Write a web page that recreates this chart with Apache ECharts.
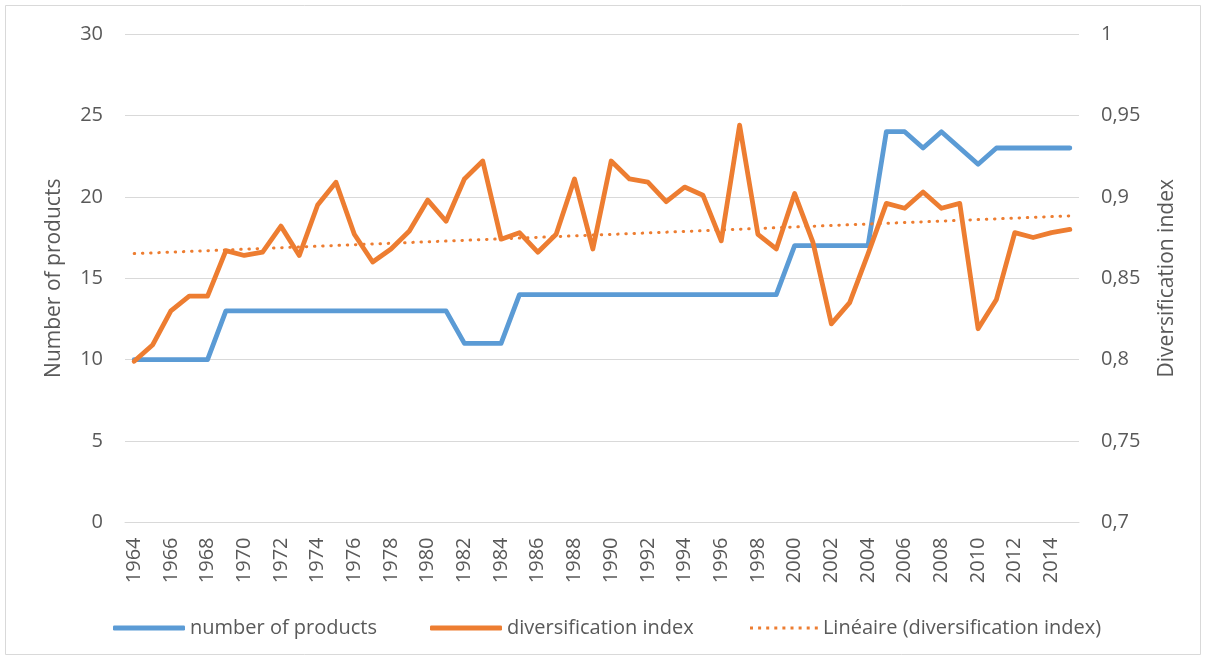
<!DOCTYPE html>
<html>
<head>
<meta charset="utf-8">
<script src="https://cdn.jsdelivr.net/npm/echarts@6/dist/echarts.min.js"></script>
<style>
html,body{margin:0;padding:0;background:#fff;}
#chart{width:1207px;height:661px;}
</style>
</head>
<body>
<div id="chart"></div>
<script>
const years = ['1964','1965','1966','1967','1968','1969','1970','1971','1972','1973','1974','1975','1976','1977','1978','1979','1980','1981','1982','1983','1984','1985','1986','1987','1988','1989','1990','1991','1992','1993','1994','1995','1996','1997','1998','1999','2000','2001','2002','2003','2004','2005','2006','2007','2008','2009','2010','2011','2012','2013','2014','2015'];

const numberOfProducts = [10,10,10,10,10,13,13,13,13,13,13,13,13,13,13,13,13,13,11,11,11,14,14,14,14,14,14,14,14,14,14,14,14,14,14,14,17,17,17,17,17,24,24,23,24,23,22,23,23,23,23,23];

const diversificationIndex = [0.799,0.809,0.830,0.839,0.839,0.867,0.864,0.866,0.882,0.864,0.895,0.909,0.877,0.860,0.868,0.879,0.898,0.885,0.911,0.922,0.874,0.878,0.866,0.877,0.911,0.868,0.922,0.911,0.909,0.897,0.906,0.901,0.873,0.944,0.877,0.868,0.902,0.872,0.822,0.835,0.865,0.896,0.893,0.903,0.893,0.896,0.819,0.837,0.878,0.875,0.878,0.880];

const leftTicks = {min: 0, max: 30, interval: 5};
const rightTicks = {min: 0.7, max: 1, interval: 0.05};

// Linear trend (least squares) of the diversification index
const n = diversificationIndex.length;
let sx = 0, sy = 0, sxy = 0, sxx = 0;
diversificationIndex.forEach((v, i) => { sx += i; sy += v; sxy += i * v; sxx += i * i; });
const slope = (n * sxy - sx * sy) / (n * sxx - sx * sx);
const intercept = (sy - slope * sx) / n;
const trend = diversificationIndex.map((v, i) => intercept + slope * i);

const FONT = 'Open Sans';
const TXT = '#595959';
const GRID = '#d9d9d9';
const BLUE = '#5B9BD5';
const ORANGE = '#ED7D31';

// dotted legend icon (9 small squares)
let dotPath = 'path://';
for (let k = 0; k < 9; k++) {
  const x = (k * 8.1).toFixed(2);
  dotPath += `M${x} 0h3v3h-3z`;
}

const legendText = {fontFamily: FONT, fontSize: 20, color: TXT};
function legendAt(left, name, icon, w, h) {
  return {left: left, top: 618, padding: 0, itemWidth: w, itemHeight: h, icon: icon,
    textStyle: legendText, selectedMode: false, data: [name]};
}

const chart = echarts.init(document.getElementById('chart'));
chart.setOption({
  backgroundColor: '#fff',
  animation: false,
  textStyle: {fontFamily: FONT, color: TXT},
  graphic: [{
    type: 'rect', silent: true,
    shape: {x: 5.5, y: 5.5, width: 1195, height: 649},
    style: {fill: 'none', stroke: GRID, lineWidth: 1}
  }],
  grid: {left: 125, right: 128, top: 34, bottom: 138.5, containLabel: false},
  legend: [
    legendAt(113, 'number of products', 'roundRect', 72, 5),
    legendAt(430, 'diversification index', 'roundRect', 72, 5),
    legendAt(750, 'Linéaire (diversification index)', dotPath, 68, 3)
  ],
  xAxis: {
    type: 'category', data: years, boundaryGap: true,
    axisLine: {lineStyle: {color: GRID, width: 1}},
    axisTick: {show: false},
    axisLabel: {interval: 1, rotate: 90, margin: 15, fontFamily: FONT, fontSize: 20, color: TXT}
  },
  yAxis: [{
    type: 'value', min: leftTicks.min, max: leftTicks.max, interval: leftTicks.interval,
    name: 'Number of products', nameLocation: 'middle', nameRotate: 90, nameGap: 60,
    nameTextStyle: {fontFamily: FONT, fontSize: 21, color: TXT},
    axisLine: {show: false}, axisTick: {show: false},
    axisLabel: {margin: 22, fontFamily: FONT, fontSize: 20, color: TXT},
    splitLine: {lineStyle: {color: GRID, width: 1}}
  }, {
    type: 'value', min: rightTicks.min, max: rightTicks.max, interval: rightTicks.interval,
    name: 'Diversification index', nameLocation: 'middle', nameRotate: 90, nameGap: 78,
    nameTextStyle: {fontFamily: FONT, fontSize: 21, color: TXT},
    axisLine: {show: false}, axisTick: {show: false},
    axisLabel: {margin: 22, fontFamily: FONT, fontSize: 20, color: TXT,
      formatter: v => String(+v.toFixed(2)).replace('.', ',')},
    splitLine: {show: false}
  }],
  series: [{
    name: 'number of products', type: 'line', yAxisIndex: 0,
    data: numberOfProducts, symbol: 'none', z: 2,
    lineStyle: {color: BLUE, width: 4.8, cap: 'round', join: 'round'},
    itemStyle: {color: BLUE}
  }, {
    name: 'diversification index', type: 'line', yAxisIndex: 1,
    data: diversificationIndex, symbol: 'none', z: 3,
    lineStyle: {color: ORANGE, width: 4.8, cap: 'round', join: 'round'},
    itemStyle: {color: ORANGE}
  }, {
    name: 'Linéaire (diversification index)', type: 'line', yAxisIndex: 1,
    data: trend, symbol: 'none', z: 4,
    lineStyle: {color: ORANGE, width: 3, type: [0.5, 7.7], cap: 'round'},
    itemStyle: {color: ORANGE}
  }]
});
</script>
</body>
</html>
